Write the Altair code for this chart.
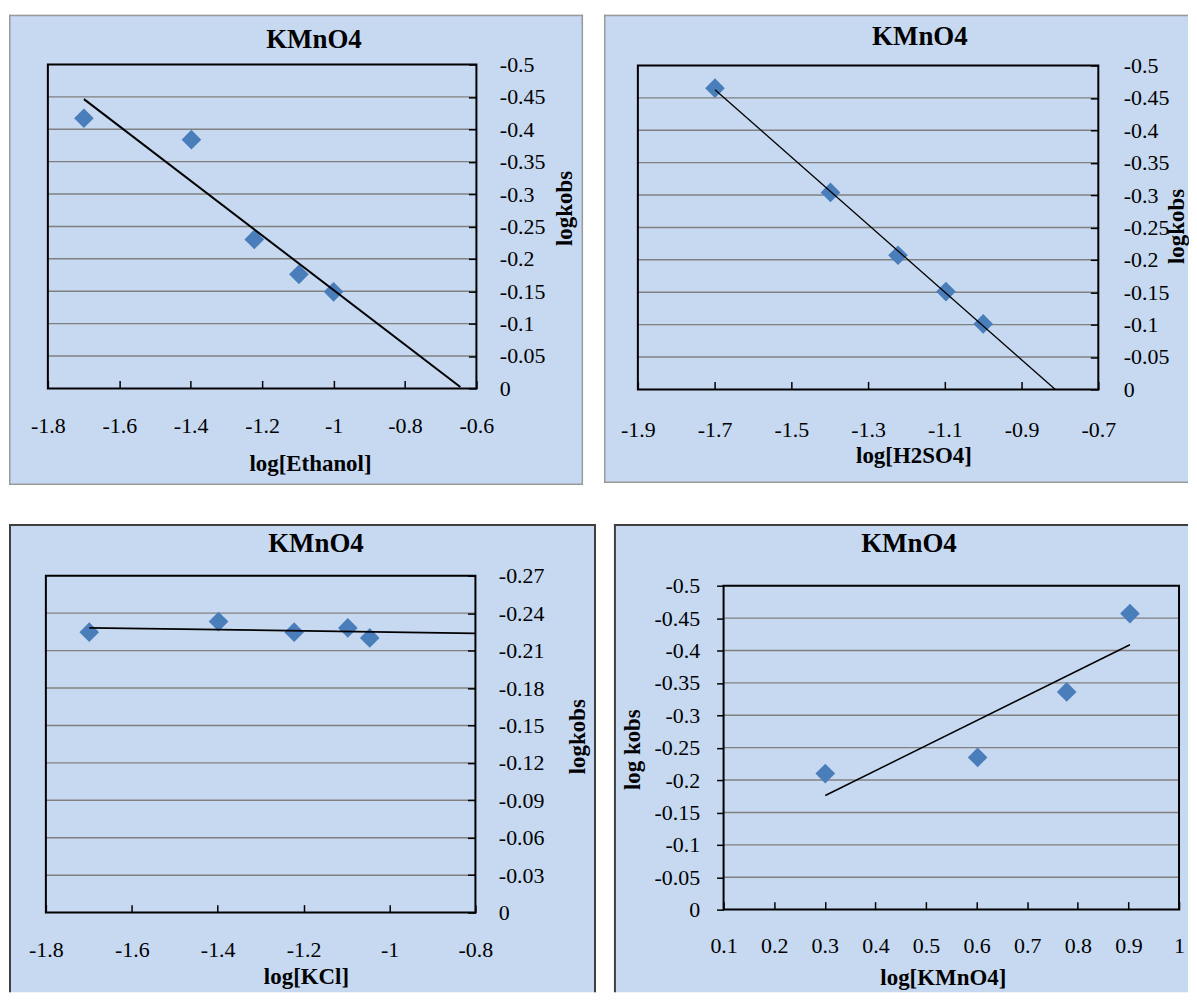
import altair as alt
import pandas as pd

FONT = "Liberation Serif"
PANEL_FILL = "#c6d9f1"
POINT_COLOR = "#4a7ebb"
TITLE = "KMnO4"

# ---------------- data ----------------
eth_x = [-1.699, -1.398, -1.222, -1.097, -1.0]
eth_y = [-0.417, -0.384, -0.230, -0.176, -0.149]
eth_xticks = [-1.8, -1.6, -1.4, -1.2, -1.0, -0.8, -0.6]
eth_yticks = [-0.5, -0.45, -0.4, -0.35, -0.3, -0.25, -0.2, -0.15, -0.1, -0.05, 0]
eth_fit = [-1.699, -0.645]

acid_x = [-1.699, -1.398, -1.222, -1.097, -1.0]
acid_y = [-0.465, -0.304, -0.207, -0.151, -0.101]
acid_xticks = [-1.9, -1.7, -1.5, -1.3, -1.1, -0.9, -0.7]
acid_yticks = [-0.5, -0.45, -0.4, -0.35, -0.3, -0.25, -0.2, -0.15, -0.1, -0.05, 0]
acid_fit = [-1.699, -0.812]

kcl_x = [-1.699, -1.398, -1.222, -1.097, -1.046]
kcl_y = [-0.2248, -0.2333, -0.2248, -0.2282, -0.2202]
kcl_xticks = [-1.8, -1.6, -1.4, -1.2, -1.0, -0.8]
kcl_yticks = [-0.27, -0.24, -0.21, -0.18, -0.15, -0.12, -0.09, -0.06, -0.03, 0]
kcl_fit = [-1.699, -0.8]

kmn_x = [0.301, 0.602, 0.778, 0.903]
kmn_y = [-0.210, -0.235, -0.336, -0.457]
kmn_xticks = [0.1, 0.2, 0.3, 0.4, 0.5, 0.6, 0.7, 0.8, 0.9, 1.0]
kmn_yticks = [-0.5, -0.45, -0.4, -0.35, -0.3, -0.25, -0.2, -0.15, -0.1, -0.05, 0]
kmn_fit = [0.301, 0.903]


def panel(xs, ys, xticks, yticks, fit, xtitle, ytitle, g):
    W, H = g["W"], g["H"]
    L, R, T, B = g["plot"]
    xsc = alt.Scale(domain=[xticks[0], xticks[-1]], range=[L, R], nice=False, zero=False)
    ysc = alt.Scale(domain=[yticks[0], yticks[-1]], range=[T, B], nice=False, zero=False)
    pts = pd.DataFrame({"x": xs, "y": ys})
    one = pd.DataFrame({"label": [TITLE]})
    inner_y = pd.DataFrame({"v": yticks[1:-1]})

    common = dict(
        grid=False, domain=False, ticks=True, tickColor="black", tickWidth=1.5,
        labelExpr="toString(datum.value)", labelFont=FONT, labelFontSize=22,
        labelColor="black", labelBaseline="middle",
        labelFlush=False, labelOverlap=False,
        titleFont=FONT, titleFontSize=23, titleFontWeight="bold", titleColor="black",
        titleAlign="center", titleBaseline="middle", zindex=1,
    )
    xaxis = alt.Axis(
        orient="bottom", values=xticks, title=xtitle,
        offset=(B - H) - 8, tickSize=8, labelPadding=g["xlp"], labelAngle=0,
        titleX=g["xt"][0], titleY=g["xt"][1], titleAngle=0, **common,
    )
    if g["yorient"] == "right":
        yoff, ysize = (R - W) - 8, 8
    else:
        yoff, ysize = -L, 7
    yaxis = alt.Axis(
        orient=g["yorient"], values=yticks, title=ytitle,
        offset=yoff, tickSize=ysize, labelPadding=g["ylp"],
        titleX=g["yt"][0], titleY=g["yt"][1], titleAngle=270, **common,
    )

    layers = []
    # outer frame of the chart area (decoration)
    e = g["ew"] / 2
    side_enc = {
        "left": dict(x=alt.value(e), y=alt.value(0), y2=alt.value(H)),
        "right": dict(x=alt.value(W - e), y=alt.value(0), y2=alt.value(H)),
        "top": dict(y=alt.value(e), x=alt.value(0), x2=alt.value(W)),
        "bottom": dict(y=alt.value(H - e), x=alt.value(0), x2=alt.value(W)),
    }
    for s in g["sides"]:
        layers.append(
            alt.Chart(one).mark_rule(color=g["edge"], strokeWidth=g["ew"]).encode(**side_enc[s])
        )

    grid = alt.Chart(inner_y).mark_rule(color="#808080", strokeWidth=1.4).encode(
        y=alt.Y("v:Q", scale=ysc, axis=yaxis),
        x=alt.XDatum(xticks[0], type="quantitative", scale=xsc, axis=xaxis),
        x2=alt.X2Datum(xticks[-1]),
    )
    border = alt.Chart(one).mark_rect(fillOpacity=0, stroke="black", strokeWidth=2).encode(
        x=alt.XDatum(xticks[0], type="quantitative", scale=xsc, axis=xaxis),
        x2=alt.X2Datum(xticks[-1]),
        y=alt.YDatum(yticks[0], type="quantitative", scale=ysc, axis=yaxis),
        y2=alt.Y2Datum(yticks[-1]),
    )
    dots = alt.Chart(pts).mark_point(
        shape="diamond", filled=True, size=390, color=POINT_COLOR, opacity=1
    ).encode(
        x=alt.X("x:Q", scale=xsc, axis=xaxis),
        y=alt.Y("y:Q", scale=ysc, axis=yaxis),
    )
    trend = alt.Chart(pts).transform_regression("x", "y", extent=fit).mark_line(
        color="black", strokeWidth=g["lw"]
    ).encode(
        x=alt.X("x:Q", scale=xsc, axis=xaxis),
        y=alt.Y("y:Q", scale=ysc, axis=yaxis),
    )
    head = alt.Chart(one).mark_text(
        font=FONT, fontSize=27, fontWeight="bold", color="black",
        align="center", baseline="middle",
    ).encode(text="label:N", x=alt.value(g["tt"][0]), y=alt.value(g["tt"][1]))

    layers += [grid, border, dots, trend, head]
    return alt.layer(*layers).properties(width=W, height=H)


g1 = dict(W=576, H=472, plot=(39, 469, 50, 375), sides=["left", "top", "right", "bottom"],
          edge="#9a9a9a", ew=1.5, tt=(306, 25.5),
          xlp=37, xt=(302, 83), ylp=23, yt=(96, 194), yorient="right", lw=2)
g2 = dict(W=586, H=470, plot=(34, 496, 51, 376), sides=["left", "top", "bottom"],
          edge="#9a9a9a", ew=1.5, tt=(317, 22),
          xlp=40, xt=(310.5, 74), ylp=25, yt=(86, 212), yorient="right", lw=1.3)
g3 = dict(W=589, H=470, plot=(37, 468, 52, 390), sides=["left", "top", "right"],
          edge="#3f3f3f", ew=2, tt=(308, 20),
          xlp=37, xt=(298, 72.5), ylp=23, yt=(110, 213), yorient="right", lw=1.8)
g4 = dict(W=576, H=470, plot=(110, 567, 62, 387), sides=["left", "top"],
          edge="#3f3f3f", ew=2, tt=(296, 20),
          xlp=36, xt=(330, 76), ylp=17, yt=(-91, 226), yorient="left", lw=1.5)

p1 = panel(eth_x, eth_y, eth_xticks, eth_yticks, eth_fit, "log[Ethanol]", "logkobs", g1)
p2 = panel(acid_x, acid_y, acid_xticks, acid_yticks, acid_fit, "log[H2SO4]", "logkobs", g2)
p3 = panel(kcl_x, kcl_y, kcl_xticks, kcl_yticks, kcl_fit, "log[KCl]", "logkobs", g3)
p4 = panel(kmn_x, kmn_y, kmn_xticks, kmn_yticks, kmn_fit, "log[KMnO4]", "log kobs", g4)

row1 = alt.hconcat(p1, p2, spacing=19)
row2 = alt.hconcat(p3, p4, spacing=16)
chart = alt.vconcat(row1, row2, spacing=37).properties(
    padding={"left": 0, "top": 4, "right": 0, "bottom": 0},
    background="white",
).configure_view(fill=PANEL_FILL, strokeWidth=0)

chart.save("out.html", embed_options={"renderer": "svg", "actions": False})
